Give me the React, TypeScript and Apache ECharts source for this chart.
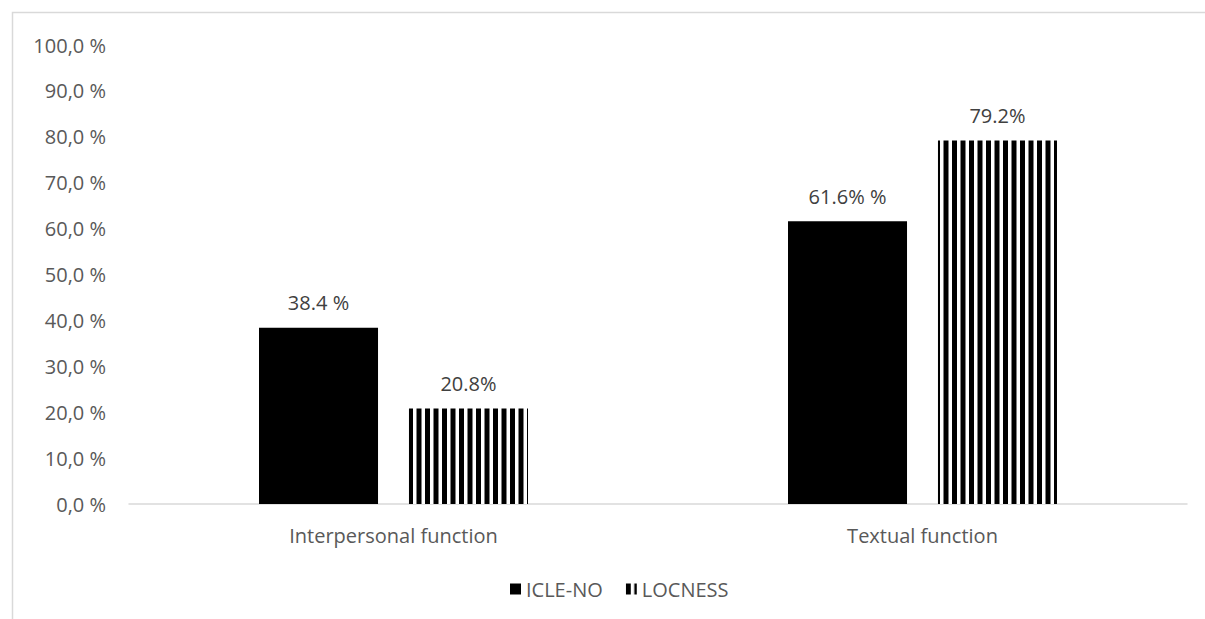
import React, { useEffect, useRef } from "react";
import * as echarts from "echarts";

const categories = ["Interpersonal function", "Textual function"];
const icleValues = [38.4, 61.6];
const locnessValues = [20.8, 79.2];
const icleLabels = ["38.4 %", "61.6% %"];
const locnessLabels = ["20.8%", "79.2%"];
const seriesNames = ["ICLE-NO", "LOCNESS"];

const FONT = "'Open Sans', sans-serif";
const TEXT = "#595959";

function makeStripes() {
  const c = document.createElement("canvas");
  c.width = 17;
  c.height = 4;
  const ctx = c.getContext("2d")!;
  ctx.fillStyle = "#ffffff";
  ctx.fillRect(0, 0, 17, 4);
  ctx.fillStyle = "#000000";
  ctx.fillRect(0, 0, 5, 4);
  ctx.fillRect(8.5, 0, 5, 4);
  return c;
}

export default function App() {
  const ref = useRef<HTMLDivElement>(null);
  useEffect(() => {
    if (!ref.current) return;
    const chart = echarts.init(ref.current, null, { renderer: "svg" });
    const stripes = { image: makeStripes(), repeat: "repeat" } as any;
    chart.setOption({
      animation: false,
      backgroundColor: "#ffffff",
      graphic: [
        {
          type: "rect",
          shape: { x: 12.5, y: 12.5, width: 1300, height: 800 },
          style: { fill: "none", stroke: "#d9d9d9", lineWidth: 1.5 },
          silent: true,
          z: -10,
        },
      ],
      grid: { left: 129, right: 18, top: 45, bottom: 115 },
      legend: {
        data: seriesNames,
        left: 505,
        top: 574,
        itemWidth: 11,
        itemHeight: 11,
        itemGap: 23,
        icon: "rect",
        textStyle: { color: TEXT, fontFamily: FONT, fontSize: 20 },
      },
      xAxis: {
        type: "category",
        data: categories,
        axisLine: { lineStyle: { color: "#d9d9d9", width: 1.5 } },
        axisTick: { show: false },
        axisLabel: { color: TEXT, fontFamily: FONT, fontSize: 20, margin: 21 },
      },
      yAxis: {
        type: "value",
        min: 0,
        max: 100,
        interval: 10,
        splitLine: { show: false },
        axisLine: { show: false },
        axisTick: { show: false },
        axisLabel: {
          color: TEXT,
          fontFamily: FONT,
          fontSize: 20,
          margin: 23,
          formatter: (v: number) => v.toFixed(1).replace(".", ",") + " %",
        },
      },
      series: [
        {
          name: seriesNames[0],
          type: "bar",
          data: icleValues,
          barWidth: "22.5%",
          barGap: "26%",
          itemStyle: { color: "#000000" },
          label: {
            show: true,
            position: "top",
            distance: 15,
            color: "#404040",
            fontFamily: FONT,
            fontSize: 20,
            formatter: (p: any) => icleLabels[p.dataIndex],
          },
        },
        {
          name: seriesNames[1],
          type: "bar",
          data: locnessValues,
          barWidth: "22.5%",
          itemStyle: { color: stripes },
          label: {
            show: true,
            position: "top",
            distance: 15,
            color: "#404040",
            fontFamily: FONT,
            fontSize: 20,
            formatter: (p: any) => locnessLabels[p.dataIndex],
          },
        },
      ],
    });
    return () => chart.dispose();
  }, []);
  return (
    <div
      ref={ref}
      style={{ position: "absolute", left: 0, top: 0, width: 1205, height: 619 }}
    />
  );
}
